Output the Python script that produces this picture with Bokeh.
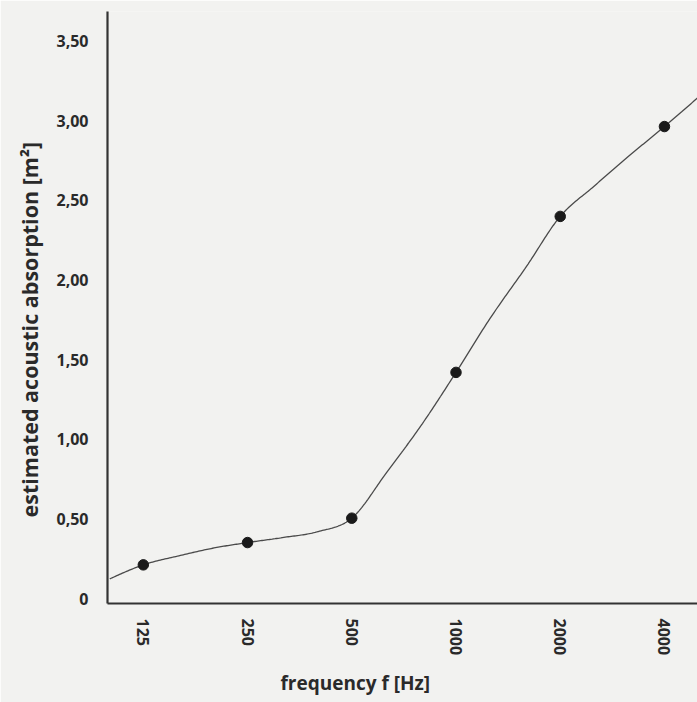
import numpy as np
from bokeh.plotting import figure
from bokeh.models import Range1d, FixedTicker, Title
from bokeh.embed import file_html
from bokeh.resources import INLINE

# ---- data ----
# marked octave bands
freq_hz = [125, 250, 500, 1000, 2000, 4000]
absorption_m2 = [0.213, 0.353, 0.506, 1.421, 2.40, 2.964]

# the drawn curve at one-third-octave band centres (100 Hz .. 5000 Hz)
curve_freq_hz = [100, 125, 160, 200, 250, 315, 400, 500, 630, 800, 1000,
                 1250, 1600, 2000, 2500, 3150, 4000, 5000]
curve_absorption_m2 = [0.125, 0.213, 0.272, 0.319, 0.353, 0.384, 0.422, 0.506, 0.792, 1.100, 1.421,
                       1.755, 2.088, 2.400, 2.588, 2.777, 2.964, 3.146]

x_tick_values = [125, 250, 500, 1000, 2000, 4000]
x_tick_labels = ["125", "250", "500", "1000", "2000", "4000"]
y_tick_values = [0, 0.5, 1.0, 1.5, 2.0, 2.5, 3.0, 3.5]
y_tick_labels = ["0", "0,50", "1,00", "1,50", "2,00", "2,50", "3,00", "3,50"]

BG = "#f2f2f0"
INK = "#2a2a2a"
FONT = "Open Sans"


def smooth_curve(fx, fy, n=24):
    """cardinal (finite-difference) cubic Hermite curve through the knots, in log-frequency"""
    x = np.log2(np.asarray(fx, dtype=float))
    y = np.asarray(fy, dtype=float)
    h = np.diff(x)
    s = np.diff(y) / h
    m = np.empty_like(y)
    m[1:-1] = (s[:-1] * h[1:] + s[1:] * h[:-1]) / (h[:-1] + h[1:])
    m[0] = (3 * s[0] - m[1]) / 2
    m[-1] = (3 * s[-1] - m[-2]) / 2
    xs, ys = [], []
    for i in range(len(x) - 1):
        t = np.linspace(0, 1, n, endpoint=(i == len(x) - 2))
        h00 = 2 * t**3 - 3 * t**2 + 1
        h10 = t**3 - 2 * t**2 + t
        h01 = -2 * t**3 + 3 * t**2
        h11 = t**3 - t**2
        xs.append(x[i] + t * h[i])
        ys.append(h00 * y[i] + h10 * h[i] * m[i] + h01 * y[i + 1] + h11 * h[i] * m[i + 1])
    return 2.0 ** np.concatenate(xs), np.concatenate(ys)


cx, cy = smooth_curve(curve_freq_hz, curve_absorption_m2)

p = figure(
    frame_width=590,
    frame_height=592,
    x_axis_type="log",
    x_range=Range1d(98.5, 4983),
    y_range=Range1d(-0.0295, 3.686),
    output_backend="svg",
    toolbar_location=None,
    min_border_left=107,
    min_border_right=0,
    min_border_top=11,
    min_border_bottom=99,
    background_fill_color=BG,
    border_fill_color=BG,
    outline_line_color=None,
)
p.grid.visible = False

p.line(cx, cy, line_color="#4a4a4a", line_width=1.3)
p.scatter(freq_hz, absorption_m2, size=10.5, fill_color="#1a1a1a", line_color="#1a1a1a")

for ax in (p.xaxis[0], p.yaxis[0]):
    ax.axis_line_color = "#333333"
    ax.axis_line_width = 2.2
    ax.major_tick_line_color = None
    ax.minor_tick_line_color = None
    ax.major_label_text_font = FONT
    ax.major_label_text_font_style = "bold"
    ax.major_label_text_font_size = "16px"
    ax.major_label_text_color = INK

p.xaxis.ticker = FixedTicker(ticks=x_tick_values, minor_ticks=[])
p.xaxis.major_label_overrides = {v: s for v, s in zip(x_tick_values, x_tick_labels)}
p.xaxis.major_label_orientation = "vertical"
p.xaxis.major_label_standoff = 9

p.yaxis.ticker = FixedTicker(ticks=y_tick_values, minor_ticks=[])
p.yaxis.major_label_overrides = {v: s for v, s in zip(y_tick_values, y_tick_labels)}
p.yaxis.major_label_standoff = 13

xt = Title(text="frequency f [Hz]", align="left", offset=173, standoff=19,
           text_font=FONT, text_font_style="bold", text_font_size="19px", text_color=INK)
p.add_layout(xt, "below")
yt = Title(text="estimated acoustic absorption [m²]", align="left", offset=86, standoff=20,
           text_font=FONT, text_font_style="bold", text_font_size="21.5px", text_color=INK)
p.add_layout(yt, "left")

open("out.html", "w").write(file_html(p, INLINE))
